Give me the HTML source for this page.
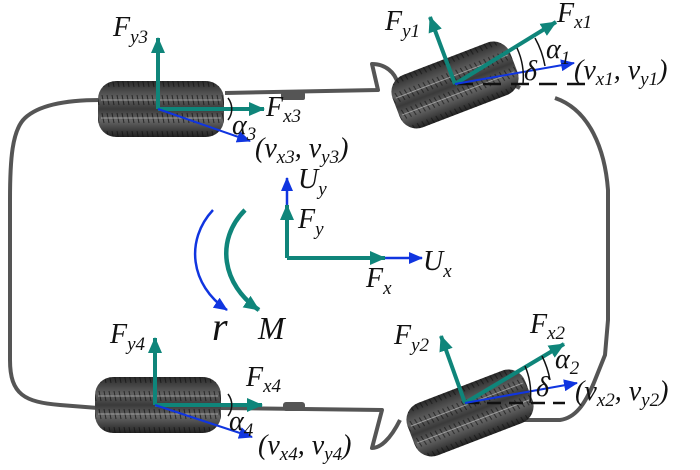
<!DOCTYPE html>
<html><head><style>
html,body{margin:0;padding:0;background:#fff;}
svg{display:block;}
text{font-family:"Liberation Serif",serif;font-style:italic;fill:#111;}
</style></head><body>
<svg width="700" height="470" viewBox="0 0 700 470" xmlns="http://www.w3.org/2000/svg">
<defs>
<linearGradient id="tg" x1="0" y1="0" x2="0" y2="1">
<stop offset="0" stop-color="#2a2a2a"/><stop offset="0.3" stop-color="#606060"/><stop offset="0.5" stop-color="#3a3a3a"/><stop offset="0.7" stop-color="#666"/><stop offset="1" stop-color="#222"/>
</linearGradient>
<pattern id="tread" width="5" height="70" patternUnits="userSpaceOnUse">
<line x1="1" y1="4" x2="3" y2="14" stroke="#111" stroke-width="1"/>
<line x1="1" y1="22" x2="3" y2="32" stroke="#111" stroke-width="1"/>
<line x1="1" y1="38" x2="3" y2="48" stroke="#111" stroke-width="1"/>
<line x1="1" y1="56" x2="3" y2="66" stroke="#111" stroke-width="1"/>
</pattern>
<g id="tire">
<rect x="-63" y="-28" width="126" height="56" rx="18" fill="url(#tg)"/>
<rect x="-63" y="-28" width="126" height="56" rx="18" fill="url(#tread)" opacity="0.7"/>
<line x1="-60" y1="-9" x2="60" y2="-9" stroke="#ccc" stroke-width="1" opacity="0.6"/>
<line x1="-60" y1="9" x2="60" y2="9" stroke="#ccc" stroke-width="1" opacity="0.6"/>
</g>
<marker id="at" markerWidth="16" markerHeight="14" refX="15" refY="7" orient="auto" markerUnits="userSpaceOnUse"><path d="M0,0 L16,7 L0,14 z" fill="#0f857a"/></marker>
<marker id="ab" markerWidth="14" markerHeight="12" refX="13" refY="6" orient="auto" markerUnits="userSpaceOnUse"><path d="M0,0 L14,6 L0,12 z" fill="#1035e0"/></marker>
</defs>

<path d="M100,100 C70,100 40,104 25,118 C12,130 10,160 10,200 L10,360 C10,395 25,402 60,405 L98,408 M220,408 L382,410 L372,448 C380,448 390,440 400,420 M520,420 L560,420 C575,418 585,405 595,380 L605,355 L608,320 L608,190 C605,150 590,110 555,98 M520,88 C505,80 480,75 398,84 C395,72 385,64 372,64 L378,90 L225,93"
 fill="none" stroke="#555" stroke-width="4" stroke-linejoin="round"/>
<rect x="281" y="92" width="24" height="8" rx="2" fill="#555"/>
<rect x="283" y="402" width="22" height="9" rx="3" fill="#555"/>

<use href="#tire" transform="translate(161,109)"/>
<use href="#tire" transform="translate(158,405)"/>
<use href="#tire" transform="translate(455,85) rotate(-21)"/>
<use href="#tire" transform="translate(470,413) rotate(-21)"/>

<g stroke-width="4" fill="none">
<line x1="158" y1="109" x2="158" y2="38" stroke="#0f857a" marker-end="url(#at)"/>
<line x1="158" y1="109" x2="264" y2="109" stroke="#0f857a" marker-end="url(#at)"/>
<line x1="158" y1="109" x2="250" y2="141" stroke="#1035e0" stroke-width="2" marker-end="url(#ab)"/>
<line x1="155" y1="405" x2="155" y2="338" stroke="#0f857a" marker-end="url(#at)"/>
<line x1="155" y1="405" x2="262" y2="405" stroke="#0f857a" marker-end="url(#at)"/>
<line x1="155" y1="405" x2="252" y2="437" stroke="#1035e0" stroke-width="2" marker-end="url(#ab)"/>
<line x1="455" y1="84" x2="595" y2="84" stroke="#111" stroke-width="2.5" stroke-dasharray="18,10"/>
<line x1="455" y1="84" x2="430" y2="17" stroke="#0f857a" marker-end="url(#at)"/>
<line x1="455" y1="84" x2="556" y2="22" stroke="#0f857a" marker-end="url(#at)"/>
<line x1="455" y1="84" x2="574" y2="63" stroke="#1035e0" stroke-width="2" marker-end="url(#ab)"/>
<line x1="465" y1="403" x2="565" y2="403" stroke="#111" stroke-width="2.5" stroke-dasharray="14,8"/>
<line x1="465" y1="403" x2="441" y2="336" stroke="#0f857a" marker-end="url(#at)"/>
<line x1="465" y1="403" x2="564" y2="344" stroke="#0f857a" marker-end="url(#at)"/>
<line x1="465" y1="403" x2="577" y2="383" stroke="#1035e0" stroke-width="2" marker-end="url(#ab)"/>
<line x1="287" y1="258" x2="287" y2="178" stroke="#1035e0" stroke-width="2.5" marker-end="url(#ab)"/>
<line x1="287" y1="258" x2="422" y2="258" stroke="#1035e0" stroke-width="2.5" marker-end="url(#ab)"/>
<line x1="287" y1="258" x2="287" y2="205" stroke="#0f857a" marker-end="url(#at)"/>
<line x1="287" y1="258" x2="385" y2="258" stroke="#0f857a" marker-end="url(#at)"/>
<path d="M213,210 C185,240 190,285 227,310" stroke="#1035e0" stroke-width="2.5" marker-end="url(#ab)"/>
<path d="M245,210 C215,240 222,285 259,310" stroke="#0f857a" stroke-width="4.5" marker-end="url(#at)"/>
<path d="M228,98 A18,18 0 0 1 228,120" stroke="#111" stroke-width="1.5"/>
<path d="M228,394 A18,18 0 0 1 228,416" stroke="#111" stroke-width="1.5"/>
<path d="M517,48 A70,70 0 0 1 523,84" stroke="#111" stroke-width="1.5"/>
<path d="M535,38 A90,90 0 0 1 545,66" stroke="#111" stroke-width="1.5"/>
<path d="M525,366 A70,70 0 0 1 530,403" stroke="#111" stroke-width="1.5"/>
<path d="M542,356 A90,90 0 0 1 550,380" stroke="#111" stroke-width="1.5"/>
</g>

<g font-size="28">
<text x="113" y="36">F<tspan font-size="19" dy="7">y3</tspan></text>
<text x="266" y="116">F<tspan font-size="19" dy="6">x3</tspan></text>
<text x="232" y="134">α<tspan font-size="19" dy="6">3</tspan></text>
<text x="255" y="157" font-style="normal">(<tspan font-style="italic">v</tspan><tspan font-size="19" dy="6" font-style="italic">x3</tspan><tspan dy="-6">, </tspan><tspan font-style="italic">v</tspan><tspan font-size="19" dy="6" font-style="italic">y3</tspan><tspan dy="-6">)</tspan></text>
<text x="385" y="30">F<tspan font-size="19" dy="7">y1</tspan></text>
<text x="557" y="22">F<tspan font-size="19" dy="6">x1</tspan></text>
<text x="546" y="58">α<tspan font-size="19" dy="6">1</tspan></text>
<text x="524" y="80">δ</text>
<text x="574" y="79" font-style="normal">(<tspan font-style="italic">v</tspan><tspan font-size="19" dy="6" font-style="italic">x1</tspan><tspan dy="-6">, </tspan><tspan font-style="italic">v</tspan><tspan font-size="19" dy="6" font-style="italic">y1</tspan><tspan dy="-6">)</tspan></text>
<text x="298" y="188">U<tspan font-size="19" dy="7">y</tspan></text>
<text x="298" y="228">F<tspan font-size="19" dy="7">y</tspan></text>
<text x="423" y="270">U<tspan font-size="19" dy="7">x</tspan></text>
<text x="366" y="287">F<tspan font-size="19" dy="7">x</tspan></text>
<text x="212" y="340" font-size="40">r</text>
<text x="258" y="339" font-size="32">M</text>
<text x="110" y="343">F<tspan font-size="19" dy="7">y4</tspan></text>
<text x="246" y="386">F<tspan font-size="19" dy="6">x4</tspan></text>
<text x="229" y="430">α<tspan font-size="19" dy="6">4</tspan></text>
<text x="258" y="454" font-style="normal">(<tspan font-style="italic">v</tspan><tspan font-size="19" dy="6" font-style="italic">x4</tspan><tspan dy="-6">, </tspan><tspan font-style="italic">v</tspan><tspan font-size="19" dy="6" font-style="italic">y4</tspan><tspan dy="-6">)</tspan></text>
<text x="394" y="344">F<tspan font-size="19" dy="7">y2</tspan></text>
<text x="530" y="333">F<tspan font-size="19" dy="6">x2</tspan></text>
<text x="555" y="368">α<tspan font-size="19" dy="6">2</tspan></text>
<text x="536" y="396">δ</text>
<text x="575" y="400" font-style="normal">(<tspan font-style="italic">v</tspan><tspan font-size="19" dy="6" font-style="italic">x2</tspan><tspan dy="-6">, </tspan><tspan font-style="italic">v</tspan><tspan font-size="19" dy="6" font-style="italic">y2</tspan><tspan dy="-6">)</tspan></text>
</g>
</svg>
</body></html>
